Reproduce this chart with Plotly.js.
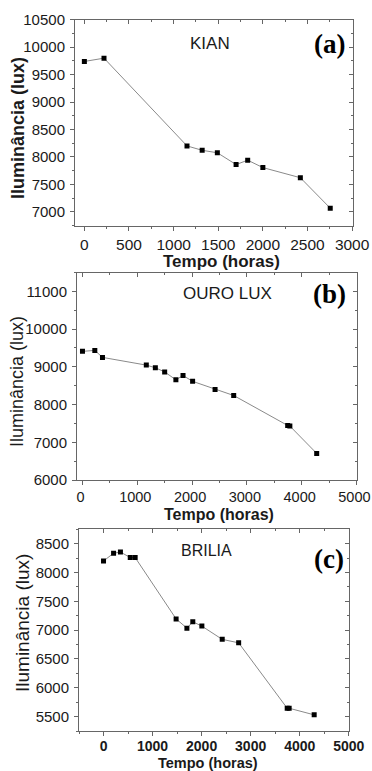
<!DOCTYPE html>
<html>
<head>
<meta charset="utf-8">
<script src="https://cdn.plot.ly/plotly-3.0.1.min.js"></script>
<style>html,body{margin:0;padding:0;background:#fff;}#chart{width:372px;height:771px;}</style>
</head>
<body>
<div id="chart"></div>
<script>
// ---- Data ----
const hoursA = [0, 220, 1150, 1320, 1490, 1700, 1830, 2000, 2420, 2755];
const luxA   = [9740, 9800, 8200, 8120, 8075, 7860, 7940, 7805, 7620, 7065];

const hoursB = [0, 225, 365, 1165, 1330, 1500, 1705, 1835, 2010, 2420, 2760, 3745, 3785, 4275];
const luxB   = [9410, 9435, 9250, 9045, 8975, 8865, 8655, 8770, 8615, 8400, 8240, 7445, 7430, 6705];

const hoursC = [0, 205, 345, 545, 645, 1480, 1700, 1820, 2005, 2420, 2755, 3745, 3785, 4295];
const luxC   = [8200, 8335, 8355, 8260, 8260, 7195, 7035, 7145, 7070, 6840, 6780, 5645, 5645, 5530];

const brands = ['KIAN', 'OURO LUX', 'BRILIA'];
const panelTags = ['(a)', '(b)', '(c)'];
const xTitle = 'Tempo (horas)';
const yTitle = 'Iluminância (lux)';

// ---- Layout helpers ----
const W = 372, H = 771;
const fx = v => v / W;
const fy = v => 1 - v / H;
const SANS = '"Liberation Sans", Arial, sans-serif';
const SERIF = '"Liberation Serif", "Times New Roman", serif';
const FRAME = '#666';
const TXT = '#1a1a1a';

function mainX(dom, range, dtick, minorD, anchor, fontSize, bold, standoff, shift) {
  return {
    domain: dom, range: range, anchor: anchor, showgrid: false, zeroline: false,
    showline: true, mirror: true, linecolor: FRAME, linewidth: 1,
    ticks: 'outside', ticklen: 4, tickwidth: 1, tickcolor: FRAME,
    tick0: 0, dtick: dtick, tickformat: 'd', ticklabeloverflow: 'allow',
    ticklabelstandoff: standoff || 0, ticklabelshift: shift || 0,
    minor: {ticks: 'outside', ticklen: 2, tickwidth: 1, tickcolor: FRAME, dtick: minorD, tick0: 0, showgrid: false},
    tickfont: {family: SANS, size: fontSize, color: TXT, weight: bold ? 'bold' : 'normal'},
    fixedrange: true
  };
}
function mainY(dom, range, tick0, dtick, minorD, anchor, fontSize) {
  return {
    domain: dom, range: range, anchor: anchor, showgrid: false, zeroline: false,
    showline: true, mirror: true, linecolor: FRAME, linewidth: 1,
    ticks: 'outside', ticklen: 4, tickwidth: 1, tickcolor: FRAME,
    tick0: tick0, dtick: dtick, tickformat: 'd', ticklabeloverflow: 'allow',
    minor: {ticks: 'outside', ticklen: 2, tickwidth: 1, tickcolor: FRAME, dtick: minorD, tick0: tick0, showgrid: false},
    tickfont: {family: SANS, size: fontSize, color: TXT},
    ticklabelstandoff: 2,
    fixedrange: true
  };
}
function mirX(base, anchor, range, dtick, minorD) {
  return {
    overlaying: base, anchor: anchor, side: 'top', range: range,
    showgrid: false, zeroline: false, showline: false, showticklabels: false,
    ticks: 'inside', ticklen: 4, tickwidth: 1, tickcolor: FRAME, tick0: 0, dtick: dtick,
    minor: {ticks: 'inside', ticklen: 2, tickwidth: 1, tickcolor: FRAME, dtick: minorD, tick0: 0, showgrid: false},
    fixedrange: true
  };
}
function mirY(base, anchor, range, tick0, dtick, minorD) {
  return {
    overlaying: base, anchor: anchor, side: 'right', range: range,
    showgrid: false, zeroline: false, showline: false, showticklabels: false,
    ticks: 'inside', ticklen: 4, tickwidth: 1, tickcolor: FRAME, tick0: tick0, dtick: dtick,
    minor: {ticks: 'inside', ticklen: 2, tickwidth: 1, tickcolor: FRAME, dtick: minorD, tick0: tick0, showgrid: false},
    fixedrange: true
  };
}

const rA = {x: [-105, 3010], y: [6740, 10505]};
const rB = {x: [-100, 5005], y: [6000, 11500]};
const rC = {x: [-500, 5005], y: [5250, 8750]};

function series(x, y, xa, ya) {
  return {
    x: x, y: y, xaxis: xa, yaxis: ya, type: 'scatter', mode: 'lines+markers',
    line: {color: '#8a8a8a', width: 1},
    marker: {symbol: 'square', size: 5, color: '#000'},
    showlegend: false, hoverinfo: 'x+y'
  };
}
function blank(xa, ya) {
  return {x: [], y: [], xaxis: xa, yaxis: ya, type: 'scatter', mode: 'markers', showlegend: false, hoverinfo: 'skip'};
}

const data = [
  series(hoursA, luxA, 'x', 'y'),
  series(hoursB, luxB, 'x2', 'y2'),
  series(hoursC, luxC, 'x3', 'y3'),
  blank('x4', 'y4'), blank('x5', 'y5'), blank('x6', 'y6')
];

function ann(text, x, y, size, opts) {
  return Object.assign({
    text: text, xref: 'paper', yref: 'paper', x: fx(x), y: fy(y),
    xanchor: 'center', yanchor: 'middle', showarrow: false,
    font: {family: SANS, size: size, color: TXT}
  }, opts || {});
}

const annotations = [
  ann(brands[0], 210, 43, 17),
  ann(brands[1], 227, 293, 17),
  ann(brands[2], 207, 550, 16),
  ann(panelTags[0], 329, 44, 27, {font: {family: SERIF, size: 27, color: '#000', weight: 'bold'}}),
  ann(panelTags[1], 329, 294, 27, {font: {family: SERIF, size: 27, color: '#000', weight: 'bold'}}),
  ann(panelTags[2], 329, 559, 27, {font: {family: SERIF, size: 27, color: '#000', weight: 'bold'}}),
  // axis titles
  ann(xTitle, 221, 261, 17, {font: {family: SANS, size: 17, color: TXT, weight: 'bold'}}),
  ann(xTitle, 219, 514, 16, {font: {family: SANS, size: 16, color: TXT, weight: 'bold'}}),
  ann(xTitle, 208, 763, 14.5, {font: {family: SANS, size: 14.5, color: TXT, weight: 'bold'}}),
  ann(yTitle, 18, 128, 18, {textangle: -90, font: {family: SANS, size: 18, color: TXT, weight: 'bold'}}),
  ann(yTitle, 17, 382, 18, {textangle: -90, font: {family: SANS, size: 18, color: TXT}}),
  ann(yTitle, 22, 623, 19, {textangle: -90, font: {family: SANS, size: 19, color: TXT}})
];

const layout = {
  width: W, height: H,
  margin: {l: 0, r: 0, t: 0, b: 0},
  paper_bgcolor: '#fff', plot_bgcolor: '#fff',
  showlegend: false,
  xaxis:  mainX([75 / W, 353 / W], rA.x, 500, 250, 'y', 15.5, false, 0, 0),
  yaxis:  mainY([fy(226), fy(19.5)], rA.y, 7000, 500, 250, 'x', 15),
  xaxis2: mainX([77 / W, 356.7 / W], rB.x, 1000, 500, 'y2', 14.5, false, 0, -2),
  yaxis2: mainY([fy(480), fy(272.5)], rB.y, 6000, 1000, 500, 'x2', 15),
  xaxis3: mainX([79 / W, 349 / W], rC.x, 1000, 500, 'y3', 14, true, -2, 0),
  yaxis3: mainY([fy(731), fy(529.3)], rC.y, 5500, 500, 250, 'x3', 15),
  xaxis4: mirX('x', 'y4', rA.x, 500, 250),
  yaxis4: mirY('y', 'x4', rA.y, 7000, 500, 250),
  xaxis5: mirX('x2', 'y5', rB.x, 1000, 500),
  yaxis5: mirY('y2', 'x5', rB.y, 6000, 1000, 500),
  xaxis6: mirX('x3', 'y6', rC.x, 1000, 500),
  yaxis6: mirY('y3', 'x6', rC.y, 5500, 500, 250),
  annotations: annotations
};

Plotly.newPlot('chart', data, layout, {displayModeBar: false, staticPlot: true});
</script>
</body>
</html>
